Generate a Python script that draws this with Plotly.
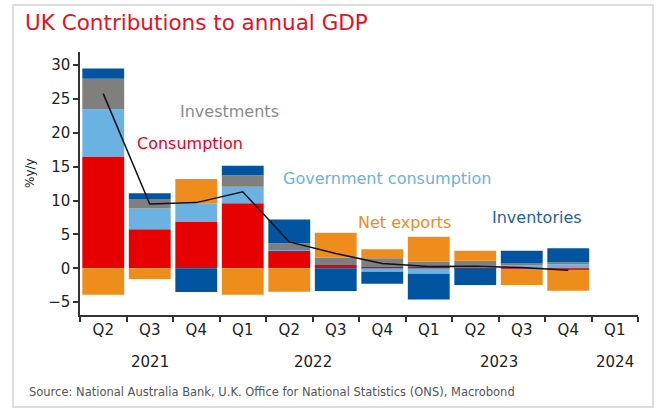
import plotly.graph_objects as go

quarters = ["Q2 2021", "Q3 2021", "Q4 2021", "Q1 2022", "Q2 2022", "Q3 2022",
            "Q4 2022", "Q1 2023", "Q2 2023", "Q3 2023", "Q4 2023", "Q1 2024"]
tick_text = ["Q2", "Q3", "Q4", "Q1", "Q2", "Q3", "Q4", "Q1", "Q2", "Q3", "Q4", "Q1"]
years = ["2021", "2022", "2023", "2024"]
year_pos = [1, 4.5, 8.5, 11]

data_quarters = quarters[:11]
consumption = [16.5, 5.75, 6.9, 9.6, 2.6, 0.5, 0.2, 0.2, 0.1, -0.1, -0.2]
government = [7.0, 3.1, 2.7, 2.45, 0.1, 0.0, -0.5, -0.8, 0.2, 0.4, 0.6]
investments = [4.5, 1.4, 0.0, 1.7, 1.0, 1.1, 1.3, 0.8, 0.8, 0.3, 0.3]
net_exports = [-3.9, -1.6, 3.6, -3.9, -3.45, 3.65, 1.3, 3.65, 1.5, -2.35, -3.1]
inventories = [1.5, 0.85, -3.5, 1.4, 3.5, -3.35, -1.8, -3.8, -2.45, 1.9, 2.05]
gdp = [25.8, 9.5, 9.7, 11.3, 3.9, 2.2, 0.7, 0.25, 0.3, 0.1, -0.3]

y_ticks = [-5, 0, 5, 10, 15, 20, 25, 30]

RED = "#E60000"
LBLUE = "#6AB2E2"
GRAY = "#7F7F7F"
ORANGE = "#EE8C1C"
DBLUE = "#0054A0"
FONT = "DejaVu Sans"

fig = go.Figure()
series = [
    ("Consumption", consumption, RED),
    ("Government consumption", government, LBLUE),
    ("Investments", investments, GRAY),
    ("Net exports", net_exports, ORANGE),
    ("Inventories", inventories, DBLUE),
]
for name, vals, col in series:
    fig.add_trace(go.Bar(x=data_quarters, y=vals, name=name,
                         marker=dict(color=col, line=dict(width=0))))
fig.add_trace(go.Scatter(x=data_quarters, y=gdp, mode="lines", name="GDP",
                         line=dict(color="#111111", width=1.5)))

labels = [
    ("Investments", 2.72, 23.2, "#8a8a8a"),
    ("Consumption", 1.87, 18.5, "#E8001C"),
    ("Government consumption", 6.11, 13.2, "#6AB2E2"),
    ("Net exports", 6.47, 6.75, "#EE8C1C"),
    ("Inventories", 9.33, 7.45, "#1F5FA8"),
]
for txt, xx, yy, col in labels:
    fig.add_annotation(x=xx, y=yy, xref="x", yref="y", text=txt, showarrow=False,
                       font=dict(family=FONT, size=16, color=col),
                       xanchor="center", yanchor="middle")

for yr, pos in zip(years, year_pos):
    fig.add_annotation(x=pos, y=-0.18, xref="x", yref="paper", text=yr,
                       showarrow=False, font=dict(family=FONT, size=15, color="#222"),
                       xanchor="center", yanchor="middle")

fig.add_annotation(x=-0.0896, y=0.54, xref="paper", yref="paper", text="%y/y",
                   textangle=-90, showarrow=False,
                   font=dict(family=FONT, size=12, color="#222"),
                   xanchor="center", yanchor="middle")

fig.add_annotation(x=-0.095, y=-0.293, xref="paper", yref="paper",
                   text="Source: National Australia Bank, U.K. Office for National Statistics (ONS), Macrobond",
                   showarrow=False, font=dict(family=FONT, size=11.5, color="#555"),
                   xanchor="left", yanchor="middle")

fig.add_shape(type="rect", xref="paper", yref="paper",
              x0=-0.12, x1=1.027, y0=-0.35, y1=1.179,
              line=dict(color="#dddddd", width=2), layer="below")

fig.update_layout(
    width=656, height=410,
    margin=dict(l=80, r=18, t=52, b=95),
    paper_bgcolor="white", plot_bgcolor="white",
    barmode="relative", bargap=0.1,
    showlegend=False,
    title=dict(text="UK Contributions to annual GDP", x=25/656, xref="container",
               xanchor="left", y=1-22/410, yref="container", yanchor="middle",
               font=dict(family=FONT, size=21.5, color="#E8101E")),
    xaxis=dict(type="category", categoryorder="array", categoryarray=quarters,
               tickvals=quarters, ticktext=tick_text, range=[-0.5, 11.5],
               tickson="boundaries", ticks="outside", ticklen=5, tickwidth=1.5,
               tickcolor="#333", showline=True, linecolor="#333", linewidth=1.5,
               showgrid=False, tickfont=dict(family=FONT, size=15, color="#222")),
    yaxis=dict(range=[-6.9, 31.95], tickvals=y_ticks, ticks="outside", ticklen=5,
               tickwidth=1.5, tickcolor="#333", showline=True, linecolor="#333",
               linewidth=1.5, showgrid=False, zeroline=False,
               tickfont=dict(family=FONT, size=15, color="#222")),
)

fig.write_html("out.html", config={"displayModeBar": False},
               post_script="document.body.style.margin='0';document.body.style.padding='0';")
